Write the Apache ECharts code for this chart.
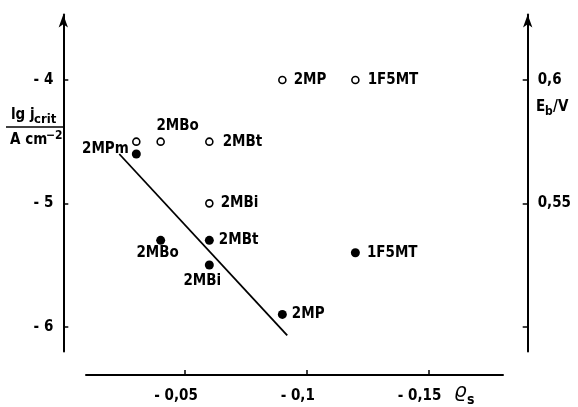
<!DOCTYPE html>
<html>
<head>
<meta charset="utf-8">
<script src="https://cdn.jsdelivr.net/npm/echarts@6/dist/echarts.min.js"></script>
<style>
html,body{margin:0;padding:0;background:#fff;}
#chart{width:578px;height:407px;}
</style>
</head>
<body>
<div id="chart"></div>
<script>
// ---- data ----
const openNames = ['2MPm', '2MBo', '2MBt', '2MP', '1F5MT', '2MBi'];
const openRho   = [-0.03, -0.04, -0.06, -0.09, -0.12, -0.06];
const openEb    = [0.575, 0.575, 0.575, 0.60, 0.60, 0.55];

const filledNames = ['2MPm', '2MBo', '2MBt', '2MBi', '2MP', '1F5MT'];
const filledRho   = [-0.03, -0.04, -0.06, -0.06, -0.09, -0.12];
const filledLgJ   = [-4.6, -5.3, -5.3, -5.5, -5.9, -5.4];

const fitRho = [-0.023, -0.092];
const fitLgJ = [-4.60, -6.07];

const leftTicks  = [-6, -5, -4];
const rightTicks = [0.5, 0.55, 0.6];
const rightLabels = [0.55, 0.6];
const xTicks = [-0.05, -0.1, -0.15];

// ---- label styles (kept separate from values) ----
const openLabelStyle = [
  {show: false},
  {position: 'top', offset: [17, 1]},
  {position: 'right', offset: [4, 0]},
  {position: 'right', offset: [2, 0]},
  {position: 'right', offset: [3, 0]},
  {position: 'right', offset: [2, 0]}
];
const filledLabelStyle = [
  {position: 'left', offset: [2, -5]},
  {position: 'bottom', offset: [-3, -4]},
  {position: 'right', offset: [0, 0]},
  {position: 'bottom', offset: [-7, -1]},
  {position: 'right', offset: [0, 0]},
  {position: 'right', offset: [2, 0]}
];

const FONT = '"DejaVu Sans Condensed", "DejaVu Sans"';
const FW = 'bold';
const fmtComma = v => String(v).replace('.', ',');

const openData = openNames.map((n, i) => ({
  name: n, value: [openRho[i], openEb[i]],
  label: Object.assign({show: true, formatter: n}, openLabelStyle[i])
}));
const filledData = filledNames.map((n, i) => ({
  name: n, value: [filledRho[i], filledLgJ[i]],
  label: Object.assign({show: true, formatter: n}, filledLabelStyle[i])
}));
const fitData = fitRho.map((r, i) => [r, fitLgJ[i]]);

const chart = echarts.init(document.getElementById('chart'), null, {renderer: 'canvas'});

const txt = {fontFamily: FONT, fontWeight: FW, fontSize: 15, color: '#000'};
const gf = (size) => 'bold ' + size + 'px "DejaVu Sans Condensed", "DejaVu Sans"';

const option = {
  backgroundColor: '#fff',
  animation: false,
  textStyle: {fontFamily: FONT, color: '#000'},
  grid: [
    {left: 63.3, right: 50.3, top: 14.6, bottom: 55.6},
    {left: 86, right: 75, top: 300, bottom: 32}
  ],
  xAxis: [
    {gridIndex: 0, type: 'value', min: -0.1908, max: 0, inverse: true, show: false},
    {
      gridIndex: 1, type: 'value', min: -0.1806, max: -0.00933, inverse: true,
      axisLine: {show: true, lineStyle: {color: '#000', width: 2}},
      axisTick: {show: true, inside: true, length: 5, lineStyle: {color: '#000', width: 1.5}, customValues: xTicks},
      axisLabel: {
        customValues: xTicks, margin: 14,
        formatter: v => '{a|- ' + fmtComma(Math.abs(v)) + '}',
        rich: {a: Object.assign({padding: [0, 18, 0, 0]}, txt)}
      },
      splitLine: {show: false}
    }
  ],
  yAxis: [
    {
      gridIndex: 0, type: 'value', min: -6.2, max: -3.47, position: 'left',
      axisLine: {show: true, symbol: ['none', 'arrow'], symbolSize: [7, 13], lineStyle: {color: '#000', width: 2}},
      axisTick: {show: true, inside: true, length: 5, lineStyle: {color: '#000', width: 1.5}, customValues: leftTicks},
      axisLabel: Object.assign({customValues: leftTicks, margin: 10,
        formatter: v => '- ' + Math.abs(v)}, txt),
      splitLine: {show: false}
    },
    {
      gridIndex: 0, type: 'value', min: 0.49, max: 0.6265, position: 'right',
      axisLine: {show: true, symbol: ['none', 'arrow'], symbolSize: [7, 13], lineStyle: {color: '#000', width: 2}},
      axisTick: {show: true, inside: true, length: 5, lineStyle: {color: '#000', width: 1.5}, customValues: rightTicks},
      axisLabel: Object.assign({customValues: rightLabels, margin: 10,
        formatter: v => fmtComma(v)}, txt),
      splitLine: {show: false}
    },
    {gridIndex: 1, type: 'value', show: false}
  ],
  series: [
    {
      type: 'line', xAxisIndex: 0, yAxisIndex: 0, data: fitData,
      symbol: 'none', lineStyle: {color: '#000', width: 1.8}, z: 2
    },
    {
      type: 'scatter', xAxisIndex: 0, yAxisIndex: 1, data: openData,
      symbol: 'circle', symbolSize: 7,
      itemStyle: {color: '#fff', borderColor: '#000', borderWidth: 1.6, opacity: 1},
      label: Object.assign({distance: 5}, txt),
      z: 3
    },
    {
      type: 'scatter', xAxisIndex: 0, yAxisIndex: 0, data: filledData,
      symbol: 'circle', symbolSize: 9,
      itemStyle: {color: '#000', opacity: 1},
      label: Object.assign({distance: 5}, txt),
      z: 3
    }
  ],
  graphic: [
    {type: 'text', left: 11, top: 108, style: {text: 'lg j', font: gf(15), fill: '#000'}},
    {type: 'text', left: 34, top: 113, style: {text: 'crit', font: gf(13), fill: '#000'}},
    {type: 'line', shape: {x1: 6, y1: 127, x2: 63, y2: 127}, style: {stroke: '#000', lineWidth: 1.6}},
    {type: 'text', left: 10, top: 133, style: {text: 'A cm', font: gf(15), fill: '#000'}},
    {type: 'text', left: 46, top: 130, style: {text: '−2', font: gf(12), fill: '#000'}},
    {type: 'text', left: 536, top: 100, style: {text: 'E', font: gf(15), fill: '#000'}},
    {type: 'text', left: 545, top: 106, style: {text: 'b', font: gf(12), fill: '#000'}},
    {type: 'text', left: 553, top: 100, style: {text: '/V', font: gf(15), fill: '#000'}},
    {type: 'text', left: 454, top: 382, style: {text: 'ϱ', font: 'italic 20px "DejaVu Sans"', fill: '#000'}},
    {type: 'text', left: 467, top: 393, style: {text: 's', font: gf(14), fill: '#000'}}
  ]
};
chart.setOption(option);
</script>
</body>
</html>
